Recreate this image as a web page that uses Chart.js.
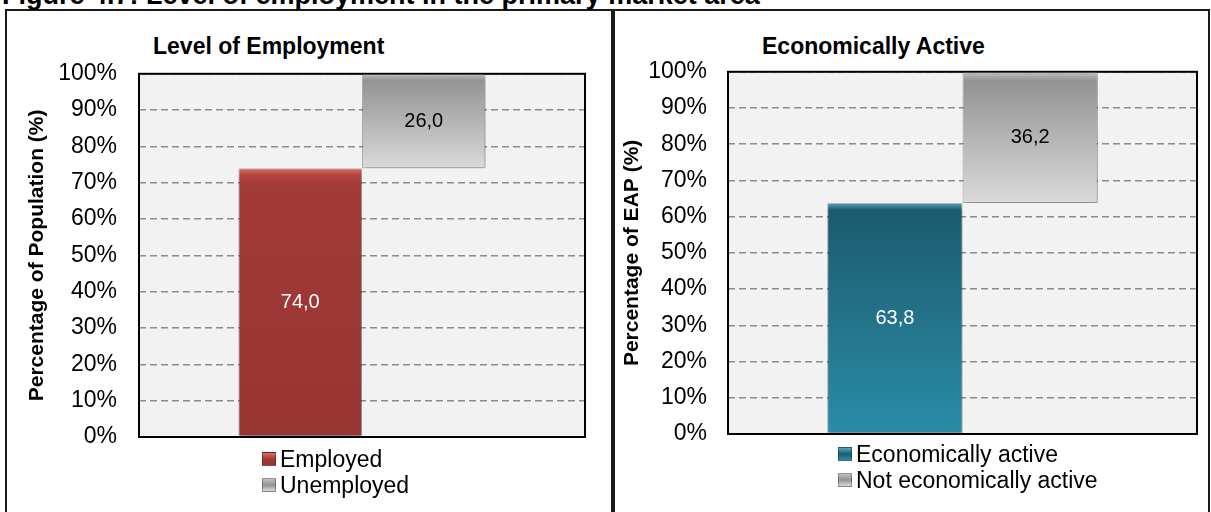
<!DOCTYPE html>
<html>
<head>
<meta charset="utf-8">
<script src="https://cdn.jsdelivr.net/npm/chart.js@4.4.0/dist/chart.umd.min.js"></script>
<style>
  html,body{margin:0;padding:0;background:#fff;width:1211px;height:512px;overflow:hidden;font-family:"Liberation Sans",Arial,Helvetica,sans-serif;color:#000}
  .panel{position:absolute;top:9px;height:530px;border:2px solid #1a1a1a;box-sizing:border-box;background:#fff}
  #panelL{left:5px;width:608px}
  #panelR{left:613px;width:597px}
  .caption{position:absolute;left:2px;top:-18px;font-weight:bold;font-size:27px;line-height:27px;white-space:nowrap;z-index:5}
  .ptitle{position:absolute;top:35px;font-weight:bold;font-size:23px;line-height:23px;white-space:nowrap}
  .box{position:absolute}
  .legend{position:absolute;font-size:23px;line-height:26px}
  .legend-item{display:flex;align-items:center;white-space:nowrap}
  .legend-item .sw{width:14px;height:14px;margin-right:4px;box-sizing:border-box;border:1px solid rgba(0,0,0,.3)}
</style>
</head>
<body>
<div class="panel" id="panelL"></div>
<div class="panel" id="panelR"></div>
<div class="caption">Figure 4.7: Level of employment in the primary market area</div>

<div class="ptitle" style="left:153px">Level of Employment</div>
<div class="box" style="left:14px;top:60px;width:580px;height:392px"><canvas id="employmentChart"></canvas></div>
<div class="legend" id="employmentLegend" style="left:262px;top:446px"></div>

<div class="ptitle" style="left:762px">Economically Active</div>
<div class="box" style="left:620px;top:58px;width:585px;height:392px"><canvas id="eapChart"></canvas></div>
<div class="legend" id="eapLegend" style="left:838px;top:441px"></div>

<script>
// ---- datos ----
const employmentCategories = ['Employed', 'Unemployed'];
const employmentValues = [74.0, 26.0];
const eapCategories = ['Economically active', 'Not economically active'];
const eapValues = [63.8, 36.2];
const yTickValues = [0, 10, 20, 30, 40, 50, 60, 70, 80, 90, 100];

(function(){
  const FONT = '"Liberation Sans", Arial, Helvetica, sans-serif';
  Chart.defaults.font.family = FONT;
  Chart.defaults.color = '#000';

  // gradient stops per series (top -> bottom)
  const RED  = [[0,'#d8706a'],[0.025,'#b4433f'],[0.06,'#a23a37'],[1,'#973533']];
  const GREY = [[0,'#c0c0c0'],[0.07,'#939393'],[1,'#dadada']];
  const TEAL = [[0,'#5aa6bb'],[0.03,'#1c5b6e'],[1,'#2a8ca8']];

  // floating segments: each bar starts where the previous one ended
  function stepRanges(values){
    let run = 0;
    return values.map(v=>{ const r = [run, run + v]; run += v; return r; });
  }

  function barFill(stops){
    return function(ctx){
      const chart = ctx.chart;
      if(!chart.chartArea || !ctx.raw) return stops[stops.length-1][1];
      const y = chart.scales.y;
      const top = y.getPixelForValue(ctx.raw[1]);
      const bottom = y.getPixelForValue(ctx.raw[0]);
      const g = chart.ctx.createLinearGradient(0, top, 0, bottom);
      stops.forEach(([o,c])=>g.addColorStop(o,c));
      return g;
    };
  }

  function cssGradient(stops){
    return 'linear-gradient(' + [stops[0][1], stops[Math.floor(stops.length/2)][1], stops[stops.length-1][1]].join(',') + ')';
  }

  const plotFrame = {
    id:'plotFrame',
    beforeDraw(chart){
      const {ctx, chartArea:a} = chart;
      ctx.save();
      ctx.fillStyle = '#f2f2f2';
      ctx.fillRect(a.left, a.top, a.width, a.height);
      ctx.restore();
    },
    beforeDatasetsDraw(chart){
      const {ctx, chartArea:a} = chart;
      ctx.save();
      ctx.strokeStyle = '#000';
      ctx.lineWidth = 2;
      ctx.strokeRect(a.left, a.top, a.width, a.height);
      ctx.restore();
    }
  };

  const barShadow = {
    id:'barShadow',
    beforeDatasetDraw(chart){
      const c = chart.ctx;
      c.save();
      c.shadowColor = 'rgba(0,0,0,0.4)';
      c.shadowBlur = 5;
      c.shadowOffsetX = 1;
      c.shadowOffsetY = 2;
    },
    afterDatasetDraw(chart){ chart.ctx.restore(); }
  };

  const valueLabels = {
    id:'valueLabels',
    afterDatasetsDraw(chart){
      const ctx = chart.ctx;
      ctx.save();
      ctx.font = '20px ' + FONT;
      ctx.textAlign = 'center';
      ctx.textBaseline = 'middle';
      chart.data.datasets.forEach((ds,i)=>{
        chart.getDatasetMeta(i).data.forEach((bar,j)=>{
          const r = ds.data[j];
          const txt = (r[1]-r[0]).toFixed(1).replace('.', ',');
          ctx.fillStyle = ds.labelColor;
          ctx.fillText(txt, bar.x, (bar.y + bar.base)/2);
        });
      });
      ctx.restore();
    }
  };

  function makeChart(canvasId, category, labels, values, fills, cfg){
    const ranges = stepRanges(values);
    const datasets = labels.map((lab,i)=>({
      label: lab,
      data: [ranges[i]],
      backgroundColor: barFill(fills[i]),
      borderColor: 'rgba(0,0,0,0.2)',
      borderWidth: 1,
      borderSkipped: false,
      labelColor: i === 0 ? '#fff' : '#000'
    }));
    return new Chart(document.getElementById(canvasId), {
      type:'bar',
      data:{ labels:[category], datasets },
      options:{
        responsive:true, maintainAspectRatio:false, animation:false,
        layout:{ padding: cfg.padding },
        datasets:{ bar:{ categoryPercentage: cfg.catPct, barPercentage: 1 } },
        scales:{
          x:{ display:false },
          y:{
            min:0, max:100,
            afterBuildTicks: s=>{ s.ticks = yTickValues.map(v=>({value:v})); },
            afterFit: s=>{ s.width = cfg.axisWidth; },
            // the gap label->frame comes from an invisible tick mark (ticks.padding would also pad top/bottom)
            ticks:{ callback:v=>v+'%', color:'#000', font:{size:23}, padding:0 },
            grid:{ color:'#8c8c8c', lineWidth:1.5, drawTicks:true, tickLength: cfg.tickGap, tickColor:'rgba(0,0,0,0)' },
            border:{ display:false, dash:[7,4] },
            title:{ display:true, text: cfg.yTitle, color:'#000', font:{size:21, weight:'bold'}, padding:{top: cfg.titlePad, bottom:0} }
          }
        },
        plugins:{ legend:{display:false}, tooltip:{enabled:false}, title:{display:false} }
      },
      plugins:[plotFrame, barShadow, valueLabels]
    });
  }

  function renderLegend(elId, labels, fills){
    document.getElementById(elId).innerHTML = labels.map((lab,i)=>
      `<div class="legend-item"><span class="sw" style="background:${cssGradient(fills[i])}"></span>${lab}</div>`
    ).join('');
  }

  const empFills = [RED, GREY];
  const eapFills = [TEAL, GREY];

  makeChart('employmentChart', 'Level of Employment', employmentCategories, employmentValues, empFills, {
    padding:{left:0, right:9, top:13, bottom:15}, catPct:0.554, axisWidth:125, tickGap:22, titlePad:11,
    yTitle:'Percentage of Population (%)'
  });
  makeChart('eapChart', 'Economically Active', eapCategories, eapValues, eapFills, {
    padding:{left:0, right:8, top:13, bottom:16}, catPct:0.577, axisWidth:108, tickGap:21, titlePad:0,
    yTitle:'Percentage of EAP (%)'
  });

  renderLegend('employmentLegend', employmentCategories, empFills);
  renderLegend('eapLegend', eapCategories, eapFills);
})();
</script>
</body>
</html>
